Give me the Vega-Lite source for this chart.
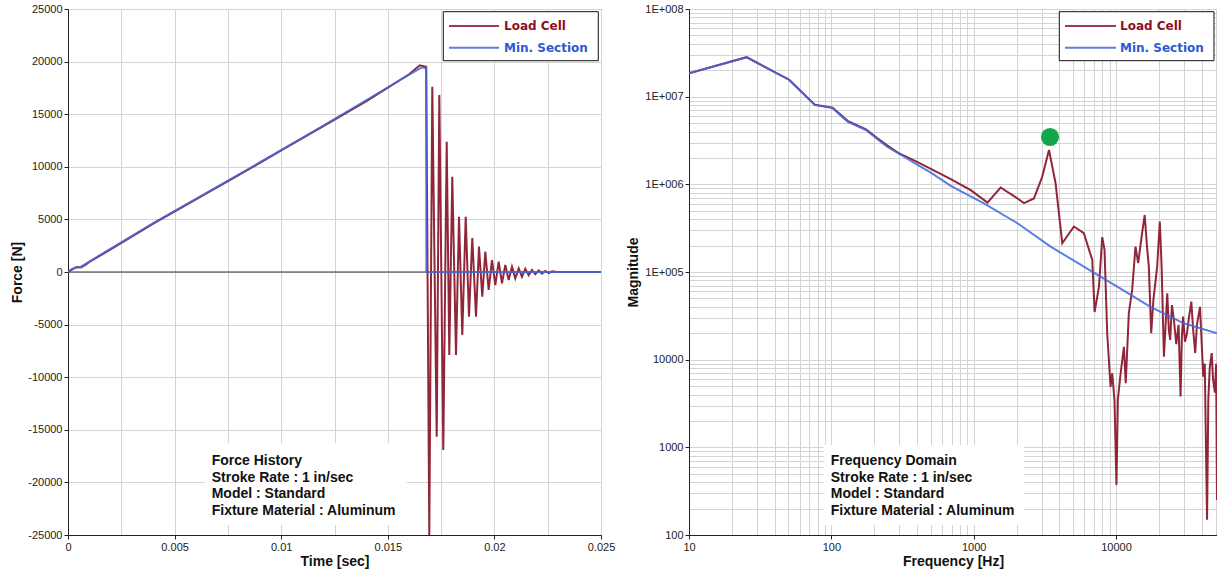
{
  "$schema": "https://vega.github.io/schema/vega-lite/v6.json",
  "padding": {"left": 10, "top": 2, "right": 0, "bottom": 0},
  "autosize": {"type": "pad"},
  "bounds": "flush",
  "spacing": 88,
  "config": {
    "font": "Liberation Sans",
    "view": {"stroke": "#333333", "strokeWidth": 1},
    "axis": {
      "labelFont": "Liberation Sans", "labelFontSize": 11, "labelColor": "#222222",
      "titleFont": "Liberation Sans", "titleFontSize": 14, "titleFontWeight": "bold", "titleColor": "#111111",
      "domainColor": "#222222", "tickColor": "#222222", "tickSize": 4,
      "gridColor": "#d4d4d4", "gridWidth": 1, "labelFlush": false, "labelOverlap": false
    }
  },
  "datasets": {
    "force": [
      {"t": 0, "F": 0, "s": "Load Cell"},
      {"t": 0.0002, "F": 250, "s": "Load Cell"},
      {"t": 0.0004, "F": 480, "s": "Load Cell"},
      {"t": 0.0006, "F": 430, "s": "Load Cell"},
      {"t": 0.0008, "F": 650, "s": "Load Cell"},
      {"t": 0.001, "F": 950, "s": "Load Cell"},
      {"t": 0.002, "F": 2150, "s": "Load Cell"},
      {"t": 0.004, "F": 4600, "s": "Load Cell"},
      {"t": 0.006, "F": 6900, "s": "Load Cell"},
      {"t": 0.008, "F": 9200, "s": "Load Cell"},
      {"t": 0.01, "F": 11550, "s": "Load Cell"},
      {"t": 0.012, "F": 13900, "s": "Load Cell"},
      {"t": 0.014, "F": 16250, "s": "Load Cell"},
      {"t": 0.016, "F": 18800, "s": "Load Cell"},
      {"t": 0.0165, "F": 19650, "s": "Load Cell"},
      {"t": 0.0168, "F": 19500, "s": "Load Cell"},
      {"t": 0.016946, "F": -25000, "s": "Load Cell"},
      {"t": 0.017087, "F": 17620, "s": "Load Cell"},
      {"t": 0.017294, "F": -15660, "s": "Load Cell"},
      {"t": 0.017416, "F": 16830, "s": "Load Cell"},
      {"t": 0.017603, "F": -16930, "s": "Load Cell"},
      {"t": 0.017763, "F": 12390, "s": "Load Cell"},
      {"t": 0.017885, "F": -7890, "s": "Load Cell"},
      {"t": 0.018025, "F": 9060, "s": "Load Cell"},
      {"t": 0.018199, "F": -7890, "s": "Load Cell"},
      {"t": 0.01834, "F": 5260, "s": "Load Cell"},
      {"t": 0.018494, "F": -5990, "s": "Load Cell"},
      {"t": 0.018654, "F": 5260, "s": "Load Cell"},
      {"t": 0.018808, "F": -4250, "s": "Load Cell"},
      {"t": 0.018963, "F": 3230, "s": "Load Cell"},
      {"t": 0.019137, "F": -4250, "s": "Load Cell"},
      {"t": 0.019277, "F": 2410, "s": "Load Cell"},
      {"t": 0.019432, "F": -2350, "s": "Load Cell"},
      {"t": 0.019573, "F": 1930, "s": "Load Cell"},
      {"t": 0.019732, "F": -1710, "s": "Load Cell"},
      {"t": 0.019887, "F": 1140, "s": "Load Cell"},
      {"t": 0.020042, "F": -1240, "s": "Load Cell"},
      {"t": 0.020201, "F": 980, "s": "Load Cell"},
      {"t": 0.020356, "F": -1080, "s": "Load Cell"},
      {"t": 0.020511, "F": 670, "s": "Load Cell"},
      {"t": 0.02067, "F": -760, "s": "Load Cell"},
      {"t": 0.020825, "F": 500, "s": "Load Cell"},
      {"t": 0.02098, "F": -600, "s": "Load Cell"},
      {"t": 0.02114, "F": 350, "s": "Load Cell"},
      {"t": 0.021294, "F": -450, "s": "Load Cell"},
      {"t": 0.021449, "F": 300, "s": "Load Cell"},
      {"t": 0.021609, "F": -300, "s": "Load Cell"},
      {"t": 0.021763, "F": 200, "s": "Load Cell"},
      {"t": 0.021918, "F": -200, "s": "Load Cell"},
      {"t": 0.022078, "F": 150, "s": "Load Cell"},
      {"t": 0.022233, "F": -150, "s": "Load Cell"},
      {"t": 0.022388, "F": 100, "s": "Load Cell"},
      {"t": 0.022547, "F": -100, "s": "Load Cell"},
      {"t": 0.022702, "F": 60, "s": "Load Cell"},
      {"t": 0.022922, "F": 0, "s": "Load Cell"},
      {"t": 0.025, "F": 0, "s": "Load Cell"},
      {"t": 0, "F": 0, "s": "Min. Section"},
      {"t": 0.0002, "F": 300, "s": "Min. Section"},
      {"t": 0.0004, "F": 420, "s": "Min. Section"},
      {"t": 0.0006, "F": 480, "s": "Min. Section"},
      {"t": 0.001, "F": 1000, "s": "Min. Section"},
      {"t": 0.004, "F": 4650, "s": "Min. Section"},
      {"t": 0.008, "F": 9250, "s": "Min. Section"},
      {"t": 0.012, "F": 13950, "s": "Min. Section"},
      {"t": 0.016, "F": 18750, "s": "Min. Section"},
      {"t": 0.0166, "F": 19450, "s": "Min. Section"},
      {"t": 0.0168, "F": 19350, "s": "Min. Section"},
      {"t": 0.01681, "F": 0, "s": "Min. Section"},
      {"t": 0.025, "F": 0, "s": "Min. Section"}
    ],
    "freq": [
      {"f": 10, "M": 18500000, "s": "Load Cell"},
      {"f": 25.4, "M": 28200000, "s": "Load Cell"},
      {"f": 50.6, "M": 15600000, "s": "Load Cell"},
      {"f": 76.5, "M": 8100000, "s": "Load Cell"},
      {"f": 102, "M": 7500000, "s": "Load Cell"},
      {"f": 130, "M": 5300000, "s": "Load Cell"},
      {"f": 175, "M": 4250000, "s": "Load Cell"},
      {"f": 211, "M": 3350000, "s": "Load Cell"},
      {"f": 245, "M": 2800000, "s": "Load Cell"},
      {"f": 300, "M": 2250000, "s": "Load Cell"},
      {"f": 400, "M": 1800000, "s": "Load Cell"},
      {"f": 500, "M": 1500000, "s": "Load Cell"},
      {"f": 690, "M": 1150000, "s": "Load Cell"},
      {"f": 953, "M": 860000, "s": "Load Cell"},
      {"f": 1250, "M": 620000, "s": "Load Cell"},
      {"f": 1545, "M": 920000, "s": "Load Cell"},
      {"f": 2030, "M": 690000, "s": "Load Cell"},
      {"f": 2255, "M": 610000, "s": "Load Cell"},
      {"f": 2650, "M": 690000, "s": "Load Cell"},
      {"f": 3030, "M": 1220000, "s": "Load Cell"},
      {"f": 3380, "M": 2470000, "s": "Load Cell"},
      {"f": 3760, "M": 1030000, "s": "Load Cell"},
      {"f": 4190, "M": 213000, "s": "Load Cell"},
      {"f": 5060, "M": 330000, "s": "Load Cell"},
      {"f": 5940, "M": 277000, "s": "Load Cell"},
      {"f": 6810, "M": 137000, "s": "Load Cell"},
      {"f": 7070, "M": 35000, "s": "Load Cell"},
      {"f": 7590, "M": 68000, "s": "Load Cell"},
      {"f": 8000, "M": 250000, "s": "Load Cell"},
      {"f": 8300, "M": 179000, "s": "Load Cell"},
      {"f": 8670, "M": 20000, "s": "Load Cell"},
      {"f": 9150, "M": 4900, "s": "Load Cell"},
      {"f": 9400, "M": 7000, "s": "Load Cell"},
      {"f": 9750, "M": 3500, "s": "Load Cell"},
      {"f": 10070, "M": 373, "s": "Load Cell"},
      {"f": 10300, "M": 3500, "s": "Load Cell"},
      {"f": 10770, "M": 7000, "s": "Load Cell"},
      {"f": 11360, "M": 14000, "s": "Load Cell"},
      {"f": 11700, "M": 5400, "s": "Load Cell"},
      {"f": 12300, "M": 34000, "s": "Load Cell"},
      {"f": 12980, "M": 62500, "s": "Load Cell"},
      {"f": 13700, "M": 195000, "s": "Load Cell"},
      {"f": 14300, "M": 126000, "s": "Load Cell"},
      {"f": 15240, "M": 277000, "s": "Load Cell"},
      {"f": 15900, "M": 447000, "s": "Load Cell"},
      {"f": 16500, "M": 195000, "s": "Load Cell"},
      {"f": 17000, "M": 115000, "s": "Load Cell"},
      {"f": 17660, "M": 20000, "s": "Load Cell"},
      {"f": 18300, "M": 48000, "s": "Load Cell"},
      {"f": 19450, "M": 115000, "s": "Load Cell"},
      {"f": 20300, "M": 377000, "s": "Load Cell"},
      {"f": 20900, "M": 115000, "s": "Load Cell"},
      {"f": 21700, "M": 10800, "s": "Load Cell"},
      {"f": 22900, "M": 57000, "s": "Load Cell"},
      {"f": 23500, "M": 22000, "s": "Load Cell"},
      {"f": 24000, "M": 16800, "s": "Load Cell"},
      {"f": 24700, "M": 42000, "s": "Load Cell"},
      {"f": 25500, "M": 28500, "s": "Load Cell"},
      {"f": 26500, "M": 15000, "s": "Load Cell"},
      {"f": 27500, "M": 25000, "s": "Load Cell"},
      {"f": 28400, "M": 3800, "s": "Load Cell"},
      {"f": 29000, "M": 18000, "s": "Load Cell"},
      {"f": 29600, "M": 31000, "s": "Load Cell"},
      {"f": 30500, "M": 16000, "s": "Load Cell"},
      {"f": 31500, "M": 20000, "s": "Load Cell"},
      {"f": 32500, "M": 30000, "s": "Load Cell"},
      {"f": 33800, "M": 46000, "s": "Load Cell"},
      {"f": 34800, "M": 22000, "s": "Load Cell"},
      {"f": 36000, "M": 11900, "s": "Load Cell"},
      {"f": 37000, "M": 25000, "s": "Load Cell"},
      {"f": 38900, "M": 40000, "s": "Load Cell"},
      {"f": 40000, "M": 15000, "s": "Load Cell"},
      {"f": 41000, "M": 6400, "s": "Load Cell"},
      {"f": 42000, "M": 9000, "s": "Load Cell"},
      {"f": 43600, "M": 149, "s": "Load Cell"},
      {"f": 44500, "M": 3500, "s": "Load Cell"},
      {"f": 45500, "M": 8000, "s": "Load Cell"},
      {"f": 47000, "M": 11900, "s": "Load Cell"},
      {"f": 48000, "M": 6000, "s": "Load Cell"},
      {"f": 49500, "M": 4200, "s": "Load Cell"},
      {"f": 50500, "M": 9000, "s": "Load Cell"},
      {"f": 51200, "M": 250, "s": "Load Cell"},
      {"f": 10, "M": 18500000, "s": "Min. Section"},
      {"f": 25.4, "M": 28100000, "s": "Min. Section"},
      {"f": 50.6, "M": 15500000, "s": "Min. Section"},
      {"f": 76.5, "M": 8000000, "s": "Min. Section"},
      {"f": 102, "M": 7400000, "s": "Min. Section"},
      {"f": 130, "M": 5200000, "s": "Min. Section"},
      {"f": 175, "M": 4170000, "s": "Min. Section"},
      {"f": 211, "M": 3270000, "s": "Min. Section"},
      {"f": 245, "M": 2700000, "s": "Min. Section"},
      {"f": 324, "M": 2070000, "s": "Min. Section"},
      {"f": 400, "M": 1680000, "s": "Min. Section"},
      {"f": 500, "M": 1360000, "s": "Min. Section"},
      {"f": 690, "M": 960000, "s": "Min. Section"},
      {"f": 1180, "M": 608000, "s": "Min. Section"},
      {"f": 2030, "M": 360000, "s": "Min. Section"},
      {"f": 3470, "M": 195000, "s": "Min. Section"},
      {"f": 5940, "M": 115000, "s": "Min. Section"},
      {"f": 10190, "M": 68000, "s": "Min. Section"},
      {"f": 17460, "M": 40000, "s": "Min. Section"},
      {"f": 29900, "M": 26000, "s": "Min. Section"},
      {"f": 51200, "M": 20000, "s": "Min. Section"}
    ]
  },
  "hconcat": [
    {
      "width": 533,
      "height": 526,
      "layer": [
        {
          "data": {"values": [{"t1": 0.006426, "t2": 0.015886, "F1": -16283, "F2": -24049}]},
          "mark": {"type": "rect", "fill": "white", "strokeWidth": 0},
          "encoding": {
            "x": {"field": "t1", "type": "quantitative",
              "scale": {"domain": [0, 0.025], "nice": false, "zero": false},
              "axis": {"title": "Time [sec]",
                "values": [0, 0.0025, 0.005, 0.0075, 0.01, 0.0125, 0.015, 0.0175, 0.02, 0.0225, 0.025],
                "labelExpr": "abs(datum.value/0.005 - round(datum.value/0.005)) < 0.001 ? toString(datum.value) : ''",
                "tickOpacity": {"condition": {"test": "abs(datum.value/0.005 - round(datum.value/0.005)) < 0.001", "value": 1}, "value": 0},
                "labelPadding": 2, "titlePadding": 2}},
            "x2": {"field": "t2"},
            "y": {"field": "F1", "type": "quantitative",
              "scale": {"domain": [-25000, 25000], "nice": false},
              "axis": {"title": "Force [N]",
                "values": [-25000, -20000, -15000, -10000, -5000, 0, 5000, 10000, 15000, 20000, 25000],
                "labelExpr": "toString(datum.value)", "labelPadding": 2, "titlePadding": 3}},
            "y2": {"field": "F2"}
          }
        },
        {
          "data": {"values": [{"F": 0}]},
          "mark": {"type": "rule", "color": "#333333", "strokeWidth": 1},
          "encoding": {"y": {"field": "F", "type": "quantitative"}}
        },
        {
          "data": {"name": "force"},
          "mark": {"type": "line", "strokeWidth": 2, "clip": true},
          "encoding": {
            "x": {"field": "t", "type": "quantitative"},
            "y": {"field": "F", "type": "quantitative"},
            "color": {"field": "s", "type": "nominal", "legend": null,
              "scale": {"domain": ["Load Cell", "Min. Section"], "range": ["#8B1A2E", "#4169DD"]}},
            "opacity": {"field": "s", "type": "nominal", "legend": null,
              "scale": {"domain": ["Load Cell", "Min. Section"], "range": [0.95, 0.85]}}
          }
        },
        {
          "data": {"values": [{"t1": 0.017603, "t2": 0.024873, "F1": 24744, "F2": 20085}]},
          "mark": {"type": "rect", "fill": "white", "stroke": "#111111", "strokeWidth": 1},
          "encoding": {
            "x": {"field": "t1", "type": "quantitative"},
            "x2": {"field": "t2"},
            "y": {"field": "F1", "type": "quantitative"},
            "y2": {"field": "F2"}
          }
        },
        {
          "data": {"values": [
            {"t1": 0.01787, "t2": 0.020216, "tx": 0.02045, "F": 23384, "s": "Load Cell"},
            {"t1": 0.01787, "t2": 0.020216, "tx": 0.02045, "F": 21322, "s": "Min. Section"}
          ]},
          "layer": [
            {
              "mark": {"type": "rule", "strokeWidth": 2, "opacity": 0.85},
              "encoding": {
                "x": {"field": "t1", "type": "quantitative"},
                "x2": {"field": "t2"},
                "y": {"field": "F", "type": "quantitative"},
                "color": {"field": "s", "type": "nominal", "legend": null}
              }
            },
            {
              "mark": {"type": "text", "align": "left", "baseline": "middle", "font": "DejaVu Sans", "fontWeight": "bold", "fontSize": 12},
              "encoding": {
                "x": {"field": "tx", "type": "quantitative"},
                "y": {"field": "F", "type": "quantitative"},
                "text": {"field": "s"},
                "fill": {"field": "s", "type": "nominal", "legend": null,
                  "scale": {"domain": ["Load Cell", "Min. Section"], "range": ["#8B1022", "#2B5AD0"]}}
              }
            }
          ]
        },
        {
          "data": {"values": [
            {"tx": 0.00674, "F": -17937, "label": "Force History"},
            {"tx": 0.00674, "F": -19610, "label": "Stroke Rate : 1 in/sec"},
            {"tx": 0.00674, "F": -21103, "label": "Model : Standard"},
            {"tx": 0.00674, "F": -22719, "label": "Fixture Material : Aluminum"}
          ]},
          "mark": {"type": "text", "align": "left", "baseline": "middle", "font": "Liberation Sans", "fontWeight": "bold", "fontSize": 14, "color": "#111111"},
          "encoding": {
            "x": {"field": "tx", "type": "quantitative"},
            "y": {"field": "F", "type": "quantitative"},
            "text": {"field": "label"}
          }
        }
      ]
    },
    {
      "width": 528,
      "height": 526,
      "layer": [
        {
          "data": {"values": [{"f1": 88.8, "f2": 2256, "M1": 1064, "M2": 130}]},
          "mark": {"type": "rect", "fill": "white", "strokeWidth": 0},
          "encoding": {
            "x": {"field": "f1", "type": "quantitative",
              "scale": {"type": "log", "domain": [10, 51200], "nice": false},
              "axis": {"title": "Frequency [Hz]",
                "values": [10, 20, 30, 40, 50, 60, 70, 80, 90, 100, 200, 300, 400, 500, 600, 700, 800, 900, 1000, 2000, 3000, 4000, 5000, 6000, 7000, 8000, 9000, 10000, 20000, 30000, 40000, 50000],
                "labelExpr": "abs(log(datum.value)/LN10 - round(log(datum.value)/LN10)) < 0.001 ? toString(datum.value) : ''",
                "tickOpacity": {"condition": {"test": "abs(log(datum.value)/LN10 - round(log(datum.value)/LN10)) < 0.001", "value": 1}, "value": 0},
                "labelPadding": 2, "titlePadding": 2}},
            "x2": {"field": "f2"},
            "y": {"field": "M1", "type": "quantitative",
              "scale": {"type": "log", "domain": [100, 100000000], "nice": false},
              "axis": {"title": "Magnitude",
                "values": [100, 200, 300, 400, 500, 600, 700, 800, 900, 1000, 2000, 3000, 4000, 5000, 6000, 7000, 8000, 9000, 10000, 20000, 30000, 40000, 50000, 60000, 70000, 80000, 90000, 100000, 200000, 300000, 400000, 500000, 600000, 700000, 800000, 900000, 1000000, 2000000, 3000000, 4000000, 5000000, 6000000, 7000000, 8000000, 9000000, 10000000, 20000000, 30000000, 40000000, 50000000, 60000000, 70000000, 80000000, 90000000, 100000000],
                "labelExpr": "abs(log(datum.value)/LN10 - round(log(datum.value)/LN10)) < 0.001 ? (datum.value >= 100000 ? '1E+00' + toString(round(log(datum.value)/LN10)) : toString(datum.value)) : ''",
                "tickOpacity": {"condition": {"test": "abs(log(datum.value)/LN10 - round(log(datum.value)/LN10)) < 0.001", "value": 1}, "value": 0},
                "labelPadding": 2, "titlePadding": 4}},
            "y2": {"field": "M2"}
          }
        },
        {
          "data": {"name": "freq"},
          "mark": {"type": "line", "strokeWidth": 2, "clip": true},
          "encoding": {
            "x": {"field": "f", "type": "quantitative"},
            "y": {"field": "M", "type": "quantitative"},
            "color": {"field": "s", "type": "nominal", "legend": null},
            "opacity": {"field": "s", "type": "nominal", "legend": null}
          }
        },
        {
          "data": {"values": [{"f": 3436, "M": 3470000}]},
          "mark": {"type": "point", "filled": true, "size": 330, "color": "#12A84A", "opacity": 1},
          "encoding": {
            "x": {"field": "f", "type": "quantitative"},
            "y": {"field": "M", "type": "quantitative"}
          }
        },
        {
          "data": {"values": [{"f1": 3994, "f2": 48750, "M1": 93160000, "M2": 25720000}]},
          "mark": {"type": "rect", "fill": "white", "stroke": "#111111", "strokeWidth": 1},
          "encoding": {
            "x": {"field": "f1", "type": "quantitative"},
            "x2": {"field": "f2"},
            "y": {"field": "M1", "type": "quantitative"},
            "y2": {"field": "M2"}
          }
        },
        {
          "data": {"values": [
            {"f1": 4379, "f2": 9994, "fx": 10660, "M": 64000000, "s": "Load Cell"},
            {"f1": 4379, "f2": 9994, "fx": 10660, "M": 36200000, "s": "Min. Section"}
          ]},
          "layer": [
            {
              "mark": {"type": "rule", "strokeWidth": 2, "opacity": 0.85},
              "encoding": {
                "x": {"field": "f1", "type": "quantitative"},
                "x2": {"field": "f2"},
                "y": {"field": "M", "type": "quantitative"},
                "color": {"field": "s", "type": "nominal", "legend": null}
              }
            },
            {
              "mark": {"type": "text", "align": "left", "baseline": "middle", "font": "DejaVu Sans", "fontWeight": "bold", "fontSize": 12},
              "encoding": {
                "x": {"field": "fx", "type": "quantitative"},
                "y": {"field": "M", "type": "quantitative"},
                "text": {"field": "s"},
                "fill": {"field": "s", "type": "nominal", "legend": null}
              }
            }
          ]
        },
        {
          "data": {"values": [
            {"fx": 99.0, "M": 704, "label": "Frequency Domain"},
            {"fx": 99.0, "M": 443.6, "label": "Stroke Rate : 1 in/sec"},
            {"fx": 99.0, "M": 293.8, "label": "Model : Standard"},
            {"fx": 99.0, "M": 187.9, "label": "Fixture Material : Aluminum"}
          ]},
          "mark": {"type": "text", "align": "left", "baseline": "middle", "font": "Liberation Sans", "fontWeight": "bold", "fontSize": 14, "color": "#111111"},
          "encoding": {
            "x": {"field": "fx", "type": "quantitative"},
            "y": {"field": "M", "type": "quantitative"},
            "text": {"field": "label"}
          }
        }
      ]
    }
  ]
}
